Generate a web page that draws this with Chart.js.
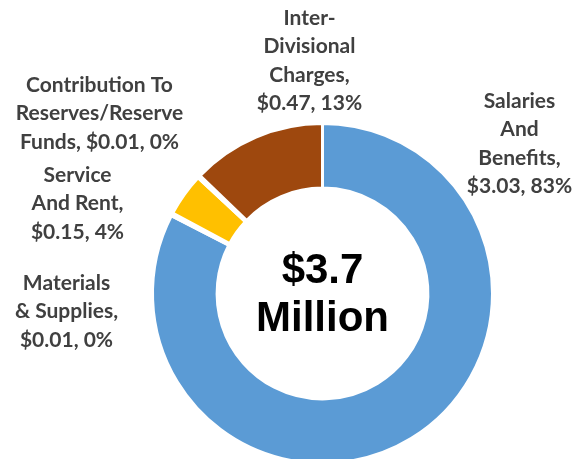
<!DOCTYPE html>
<html>
<head>
<meta charset="utf-8">
<script src="https://cdn.jsdelivr.net/npm/chart.js@4/dist/chart.umd.min.js"></script>
<style>
  html, body { margin: 0; padding: 0; background: #fff; overflow: hidden; }
  #wrap { position: relative; width: 576px; height: 470px; }
</style>
</head>
<body>
<div id="wrap"><canvas id="chart"></canvas></div>
<script>
const categories = ['Salaries And Benefits', 'Materials & Supplies', 'Service And Rent',
    'Contribution To Reserves/Reserve Funds', 'Inter-Divisional Charges'];
const amounts = [3.03, 0.01, 0.15, 0.01, 0.47];   // $ millions
const colors = ['#5B9BD5', '#ED7D31', '#FFC000', '#A5A5A5', '#9E480E'];
const labelLines = [
    ['Salaries', 'And', 'Benefits,', '{v}'],
    ['Materials', '& Supplies,', '{v}'],
    ['Service', 'And Rent,', '{v}'],
    ['Contribution To', 'Reserves/Reserve', 'Funds, {v}'],
    ['Inter-', 'Divisional', 'Charges,', '{v}']
];
const centerText = ['$3.7', 'Million'];

// label block centre, offset from the doughnut centre
const labelOffsets = [[197, -150], [-256, 18], [-245, -90], [-223, -180], [-13, -233]];

const total = amounts.reduce((a, b) => a + b, 0);

const labelPlugin = {
    id: 'labels',
    afterDraw(chart) {
        const ctx = chart.ctx;
        const arc = chart.getDatasetMeta(0).data[0];
        const cx = arc.x, cy = arc.y;
        ctx.save();
        ctx.textAlign = 'center';
        ctx.textBaseline = 'middle';

        // outside labels
        ctx.fillStyle = '#404040';
        ctx.font = 'bold 21px Lato';
        const lh = 28.5;
        labelLines.forEach((lines, i) => {
            const v = '$' + amounts[i].toFixed(2) + ', ' + Math.round(amounts[i] / total * 100) + '%';
            const bx = cx + labelOffsets[i][0];
            const by = cy + labelOffsets[i][1];
            const top = by - (lines.length - 1) * lh / 2;
            lines.forEach((l, j) => {
                ctx.fillText(l.replace('{v}', v), bx, top + j * lh);
            });
        });

        // centre text
        ctx.fillStyle = '#000';
        ctx.font = 'bold 42px "Liberation Sans"';
        ctx.fillText(centerText[0], cx, cy - 22);
        ctx.fillText(centerText[1], cx, cy + 26);
        ctx.restore();
    }
};

const ctx = document.getElementById('chart').getContext('2d');
const myChart = new Chart(ctx, {
    type: 'doughnut',
    data: {
        labels: categories,
        datasets: [{
            data: amounts,
            backgroundColor: colors,
            borderColor: '#fff',
            borderWidth: 3
        }]
    },
    options: {
        responsive: true,
        maintainAspectRatio: false,
        animation: false,
        cutout: '62%',
        layout: { padding: { left: 151, right: 82, top: 122, bottom: 5 } },
        plugins: {
            legend: { display: false },
            tooltip: { enabled: false }
        }
    },
    plugins: [labelPlugin]
});
</script>
</body>
</html>
